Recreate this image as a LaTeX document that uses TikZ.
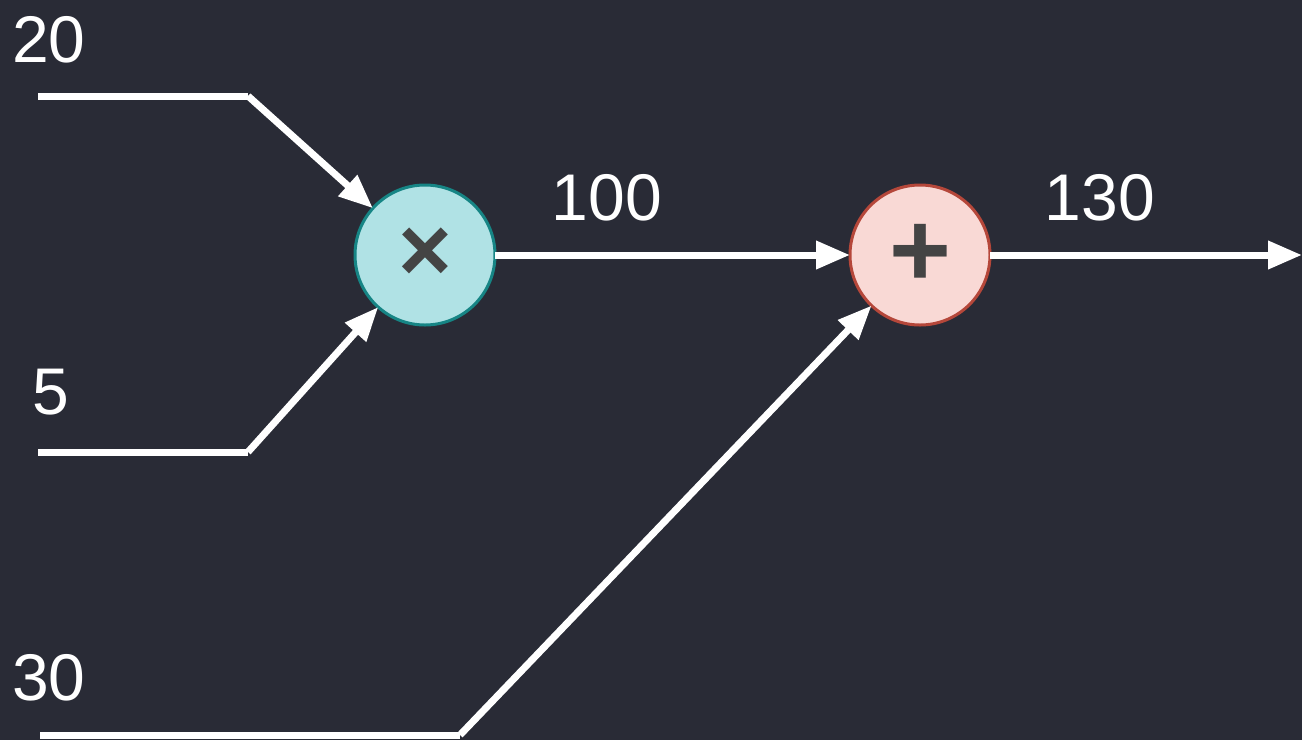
\documentclass[tikz,border=0pt]{standalone}
\usepackage{fontspec}
\setmainfont{Liberation Sans}
\usetikzlibrary{arrows.meta,positioning}
\definecolor{bgdark}{HTML}{292B36}
\definecolor{mulfill}{HTML}{B0E2E5}
\definecolor{muldraw}{HTML}{168585}
\definecolor{addfill}{HTML}{F9D9D5}
\definecolor{adddraw}{HTML}{B5473A}
\definecolor{opgray}{HTML}{444444}

\begin{document}
\begin{tikzpicture}[x=1pt, y=-1pt,
    wire/.style={white, line width=7pt},
    flow/.style={wire, -{Triangle[length=34pt, width=27pt]}},
    val/.style={text=white, inner sep=0pt, font=\fontsize{66}{66}\selectfont},
    gate/.style={circle, line width=3pt, minimum size=140pt, inner sep=0pt, outer sep=0pt, text=opgray, font=\bfseries\fontsize{92}{92}\selectfont}]
  \fill[bgdark] (0,0) rectangle (1302,740);
  \useasboundingbox (0,0) rectangle (1302,740);

  \node[gate, fill=mulfill, draw=muldraw] (mul) at (425,255) {×};
  \node[gate, fill=addfill, draw=adddraw, font=\bfseries\fontsize{106}{106}\selectfont] (add) at (920,255) {\raisebox{-2pt}{+}};

  \coordinate (in20) at (38,96);
  \coordinate (k20) at (248,96);
  \coordinate (in5) at (38,452);
  \coordinate (k5) at (248,452);
  \coordinate (in30) at (40,735);
  \coordinate (k30) at (460,735);
  \coordinate (out) at (1302,255);

  \node[val, anchor=base west] (v20) at (12,62) {20};
  \node[val, anchor=base west] (v5) at (32,414) {5};
  \node[val, anchor=base west] (v30) at (12,700) {30};
  \node[val, anchor=base] (v100) at (607,220) {100};
  \node[val, anchor=base] (v130) at (1100,220) {130};

  \draw[wire] (in20) -- (k20);
  \draw[flow] (k20) -- (mul);
  \draw[wire] (in5) -- (k5);
  \draw[flow] (k5) -- (mul);
  \draw[wire] (in30) -- (k30);
  \draw[flow] (k30) -- (add);
  \draw[flow] (mul) -- (add);
  \draw[flow] (add) -- (out);

\end{tikzpicture}
\end{document}
